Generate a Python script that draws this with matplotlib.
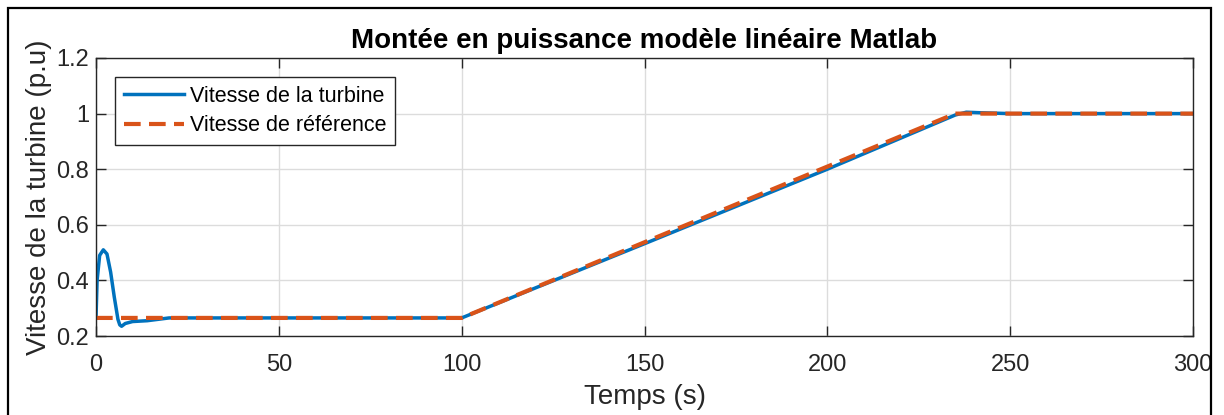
import matplotlib
matplotlib.use('Agg')
import matplotlib.pyplot as plt
from matplotlib.patches import Rectangle

plt.rcParams['font.family'] = ['Liberation Sans', 'DejaVu Sans']

# donnees
t_turb = [0, 0.3, 1, 2, 3, 4, 5, 6, 6.5, 7, 8, 10, 14, 20, 100, 120, 150, 200, 235, 238, 242, 250, 300]
v_turb = [0.265, 0.40, 0.49, 0.51, 0.495, 0.43, 0.34, 0.26, 0.24, 0.235, 0.245, 0.252, 0.255, 0.265,
          0.265, 0.372, 0.532, 0.80, 0.995, 1.005, 1.003, 1.0, 1.0]
t_ref = [0, 100, 235, 300]
v_ref = [0.265, 0.265, 1.0, 1.0]

xticks = [0, 50, 100, 150, 200, 250, 300]
yticks = [0.2, 0.4, 0.6, 0.8, 1.0, 1.2]
ylabels = ['0.2', '0.4', '0.6', '0.8', '1', '1.2']

bleu = '#0072BD'
orange = '#D95319'

fig = plt.figure(figsize=(12.24, 4.15), dpi=100)
ax = fig.add_axes([96/1224, 79/415, 1097/1224, 278/415])

ax.plot(t_turb, v_turb, color=bleu, lw=2.5, label='Vitesse de la turbine')
ax.plot(t_ref, v_ref, color=orange, lw=3.0, dashes=(4, 2), label='Vitesse de référence')

ax.set_xlim(0, 300)
ax.set_ylim(0.2, 1.2)
ax.set_xticks(xticks)
ax.set_yticks(yticks)
ax.set_yticklabels(ylabels)
ax.tick_params(direction='in', top=True, right=True, length=7, width=1, labelsize=17,
               colors='#262626')
ax.tick_params(axis='x', pad=13)
ax.tick_params(axis='y', pad=5)
ax.grid(True, color='#dcdcdc', lw=1)
for s in ax.spines.values():
    s.set_color('#262626')
    s.set_linewidth(1)

ax.set_xlabel('Temps (s)', fontsize=20, color='#262626', labelpad=6)
ax.set_ylabel('Vitesse de la turbine (p.u)', fontsize=20, color='#262626', labelpad=3)
ax.set_title('Montée en puissance modèle linéaire Matlab', fontsize=20, fontweight='bold', pad=7)

leg = ax.legend(loc='upper left', bbox_to_anchor=(0.0173, 0.932), fontsize=15.5, fancybox=False,
                edgecolor='#262626', framealpha=1, handlelength=2.8, handletextpad=0.3,
                borderpad=0.4, labelspacing=0.4, borderaxespad=0)
leg.get_frame().set_linewidth(1)

# cadre noir autour de l'image, bord droit coupe le "300"
fig.add_artist(Rectangle((1212/1224, 0), 12/1224, 1, transform=fig.transFigure,
                         facecolor='white', edgecolor='none', zorder=10))
fig.add_artist(Rectangle((8/1224, -0.05), 1203/1224, 1.05 - 8/415, transform=fig.transFigure,
                         facecolor='none', edgecolor='black', lw=1.6, zorder=11))

plt.savefig('out.png', dpi=100)
